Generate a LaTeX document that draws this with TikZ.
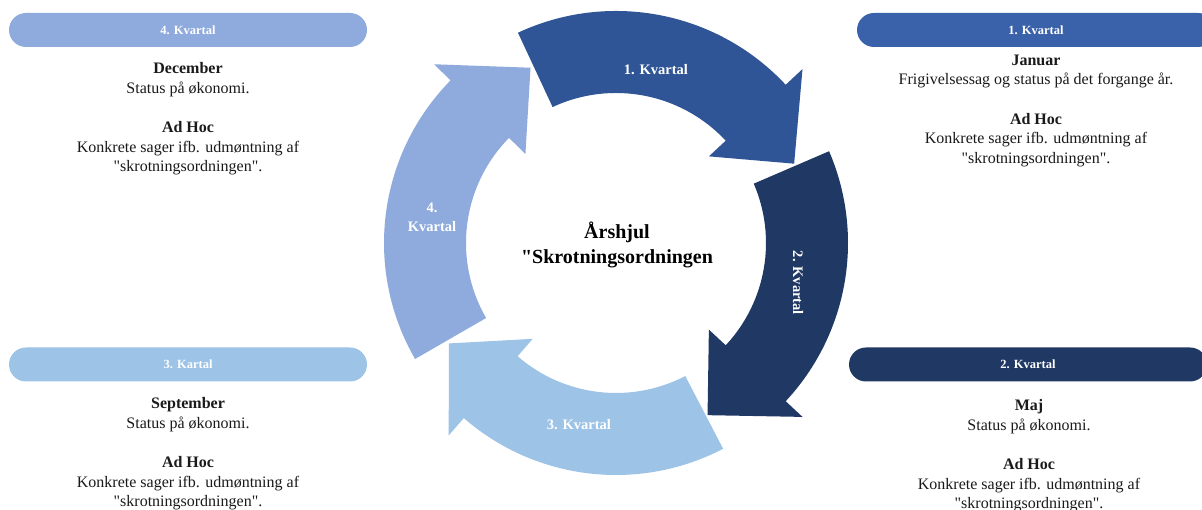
\documentclass[tikz,border=0pt]{standalone}
\usepackage{fontspec}
\setmainfont{Liberation Serif}[Ligatures=TeXOff]
\usetikzlibrary{calc}
\definecolor{qone}{HTML}{2F5597}
\definecolor{qtwo}{HTML}{203864}
\definecolor{qthree}{HTML}{9DC3E6}
\definecolor{qfour}{HTML}{8FAADC}
\definecolor{pillone}{HTML}{3A62AA}
\definecolor{bodytext}{HTML}{1A1A1A}
\tikzset{
  pill/.style={rounded corners=17pt, minimum width=358pt, minimum height=34pt, inner sep=0pt,
    text=white, font=\fontsize{12.5}{15}\selectfont\bfseries},
  block/.style={align=center, anchor=north, inner sep=0pt, text=bodytext,
    font=\fontsize{16}{19.6}\selectfont},
  arrowlabel/.style={text=white, inner sep=0pt, align=center,
    font=\fontsize{14.5}{19}\selectfont\bfseries},
  titlelabel/.style={text=black, inner sep=0pt, align=center,
    font=\fontsize{20}{25}\selectfont\bfseries},
}
\newcommand\cyclearrow[4]{%
  \fill[#1] ($(C)+(#2:232pt)$) arc[start angle=#2, end angle=#3, radius=232pt]
    -- ($(C)+(#3:255pt)$) -- ($(C)+(#4:195pt)$) -- ($(C)+(#3:127pt)$) -- ($(C)+(#3:150pt)$)
    arc[start angle=#3, end angle=#2, radius=150pt] -- cycle;}
\begin{document}
\begin{tikzpicture}[x=1pt, y=1pt]
\clip (0,0) rectangle (1202,510);
\fill[white] (0,0) rectangle (1202,510);
\coordinate (C) at (616,267);
% cycle arrows
\cyclearrow{qone}{115}{43}{24}
\cyclearrow{qtwo}{23.3}{-43}{-62}
\cyclearrow{qthree}{-62.5}{-131}{-149}
\cyclearrow{qfour}{210}{135.5}{116}
% arrow labels
\node[arrowlabel] (a1) at (656,440) {1. Kvartal};
\node[arrowlabel, rotate=-90] (a2) at (798,227) {2. Kvartal};
\node[arrowlabel] (a3) at (579,85) {3. Kvartal};
\node[arrowlabel] (a4) at (432,292.5) {4.\\Kvartal};
\node[titlelabel] (title) at (617,265.5) {Årshjul\\"Skrotningsordningen};
% pills
\node[pill, fill=qfour] (p4) at (188,480) {4. Kvartal};
\node[pill, fill=pillone] (p1) at (1036,480) {1. Kvartal};
\node[pill, fill=qthree] (p3) at (188,145.5) {3. Kartal};
\node[pill, fill=qtwo] (p2) at (1028,145.5) {2. Kvartal};
% text blocks
\node[block] (b4) at (188,447.3) {\textbf{December}\\Status på økonomi.\\[19.6pt]\textbf{Ad Hoc}\\Konkrete sager ifb. udmøntning af\\"skrotningsordningen".};
\node[block] (b1) at (1036,455.3) {\textbf{Januar}\\Frigivelsessag og status på det forgange år.\\[19.6pt]\textbf{Ad Hoc}\\Konkrete sager ifb. udmøntning af\\"skrotningsordningen".};
\node[block] (b2) at (1029,110.3) {\textbf{Maj}\\Status på økonomi.\\[19.6pt]\textbf{Ad Hoc}\\Konkrete sager ifb. udmøntning af\\"skrotningsordningen".};
\node[block] (b3) at (188,112.3) {\textbf{September}\\Status på økonomi.\\[19.6pt]\textbf{Ad Hoc}\\Konkrete sager ifb. udmøntning af\\"skrotningsordningen".};
\end{tikzpicture}
\end{document}
